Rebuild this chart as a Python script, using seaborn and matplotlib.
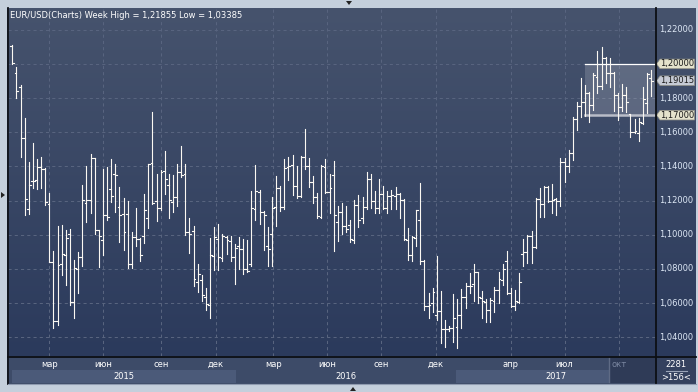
import numpy as np
import pandas as pd
import matplotlib
matplotlib.use("Agg")
import matplotlib.pyplot as plt
import seaborn as sns
from matplotlib.patches import Polygon, Rectangle

# ---------------- data (weekly EUR/USD bars) ----------------
opens = [1.2105, 1.1949, 1.1867, 1.1565, 1.1151, 1.1315, 1.1318, 1.1398, 1.1385, 1.1180,
         1.0843, 1.0498, 1.0828, 1.0882, 1.1003, 1.0609, 1.0800, 1.0869, 1.1184, 1.1202,
         1.1447, 1.1028, 1.0970, 1.1114, 1.1268, 1.1354, 1.1165, 1.1120, 1.1120, 1.0829,
         1.0985, 1.0974, 1.0991, 1.1101, 1.1420, 1.1198, 1.1155, 1.1373, 1.1292, 1.1194,
         1.1219, 1.1370, 1.1354, 1.1019, 1.1025, 1.0726, 1.0734, 1.0638, 1.0590, 1.0878,
         1.0974, 1.0863, 1.0990, 1.0966, 1.0869, 1.0932, 1.0917, 1.0798, 1.0828, 1.1151,
         1.1249, 1.1132, 1.0936, 1.1005, 1.1165, 1.1272, 1.1161, 1.1395, 1.1409, 1.1286,
         1.1229, 1.1457, 1.1405, 1.1311, 1.1223, 1.1104, 1.1397, 1.1253, 1.1350, 1.1073,
         1.1135, 1.1052, 1.1058, 1.0970, 1.1175, 1.1097, 1.1161, 1.1327, 1.1198, 1.1159,
         1.1237, 1.1159, 1.1229, 1.1229, 1.1239, 1.1204, 1.0970, 1.0882, 1.0980, 1.1087,
         1.0847, 1.0586, 1.0600, 1.0532, 1.0555, 1.0450, 1.0450, 1.0453, 1.0463, 1.0528,
         1.0639, 1.0703, 1.0711, 1.0781, 1.0633, 1.0609, 1.0561, 1.0613, 1.0678, 1.0736,
         1.0847, 1.0658, 1.0584, 1.0609, 1.0887, 1.0902, 1.0993, 1.0931, 1.1210, 1.1180,
         1.1282, 1.1200, 1.1210, 1.1198, 1.1428, 1.1403, 1.1477, 1.1676, 1.1755, 1.1775,
         1.1828, 1.1759, 1.1925, 1.1870, 1.2032, 1.1948, 1.1944, 1.1818, 1.1750, 1.1818,
         1.1705, 1.1603, 1.1597, 1.1657, 1.1769, 1.1915]
highs = [1.2110, 1.1982, 1.1877, 1.1682, 1.1426, 1.1538, 1.1444, 1.1456, 1.1393, 1.1243,
         1.0904, 1.1052, 1.1058, 1.1028, 1.1034, 1.0853, 1.0902, 1.1292, 1.1401, 1.1471,
         1.1451, 1.1030, 1.1385, 1.1399, 1.1444, 1.1412, 1.1278, 1.1213, 1.1197, 1.1019,
         1.1159, 1.0980, 1.1241, 1.1416, 1.1716, 1.1358, 1.1377, 1.1488, 1.1358, 1.1348,
         1.1416, 1.1520, 1.1416, 1.1097, 1.1052, 1.0830, 1.0765, 1.0691, 1.0980, 1.1048,
         1.1063, 1.1005, 1.0995, 1.0993, 1.0947, 1.0985, 1.0974, 1.0970, 1.1256, 1.1407,
         1.1260, 1.1140, 1.1044, 1.1219, 1.1344, 1.1286, 1.1444, 1.1456, 1.1467, 1.1403,
         1.1461, 1.1619, 1.1451, 1.1346, 1.1243, 1.1407, 1.1446, 1.1358, 1.1432, 1.1169,
         1.1184, 1.1169, 1.1087, 1.1204, 1.1233, 1.1223, 1.1370, 1.1356, 1.1258, 1.1327,
         1.1286, 1.1258, 1.1260, 1.1282, 1.1243, 1.1210, 1.1038, 1.0993, 1.1145, 1.1301,
         1.0850, 1.0658, 1.0687, 1.0878, 1.0672, 1.0503, 1.0467, 1.0652, 1.0625, 1.0683,
         1.0720, 1.0775, 1.0828, 1.0785, 1.0674, 1.0625, 1.0633, 1.0697, 1.0785, 1.0828,
         1.0906, 1.0687, 1.0678, 1.0775, 1.0978, 1.1000, 1.1020, 1.1214, 1.1272, 1.1286,
         1.1286, 1.1296, 1.1214, 1.1448, 1.1448, 1.1497, 1.1691, 1.1779, 1.1919, 1.1874,
         1.1837, 1.1944, 1.2075, 1.2097, 1.2042, 1.2032, 1.1950, 1.1830, 1.1880, 1.1866,
         1.1708, 1.1676, 1.1682, 1.1866, 1.1948, 1.1967]
lows = [1.2000, 1.1802, 1.1457, 1.1114, 1.1122, 1.1272, 1.1270, 1.1276, 1.1175, 1.0843,
        1.0457, 1.0473, 1.0762, 1.0707, 1.0588, 1.0516, 1.0658, 1.0820, 1.1077, 1.1130,
        1.1003, 1.0814, 1.0882, 1.1087, 1.1190, 1.1132, 1.0960, 1.0911, 1.0804, 1.0804,
        1.0932, 1.0849, 1.0952, 1.1040, 1.1180, 1.1083, 1.1144, 1.1237, 1.1100, 1.1132,
        1.1169, 1.1341, 1.1000, 1.0896, 1.0703, 1.0668, 1.0613, 1.0561, 1.0516, 1.0795,
        1.0795, 1.0849, 1.0886, 1.0849, 1.0711, 1.0800, 1.0769, 1.0785, 1.0820, 1.1087,
        1.1063, 1.0913, 1.0820, 1.0820, 1.1054, 1.1142, 1.1151, 1.1321, 1.1233, 1.1214,
        1.1223, 1.1385, 1.1282, 1.1184, 1.1100, 1.1097, 1.1243, 1.1130, 1.0908, 1.0966,
        1.1003, 1.1015, 1.0956, 1.0950, 1.1044, 1.1067, 1.1151, 1.1155, 1.1126, 1.1126,
        1.1151, 1.1130, 1.1150, 1.1151, 1.1100, 1.0970, 1.0853, 1.0849, 1.0936, 1.0828,
        1.0561, 1.0516, 1.0547, 1.0503, 1.0366, 1.0346, 1.0438, 1.0372, 1.0337, 1.0453,
        1.0574, 1.0658, 1.0613, 1.0600, 1.0516, 1.0488, 1.0492, 1.0549, 1.0600, 1.0707,
        1.0652, 1.0580, 1.0561, 1.0600, 1.0820, 1.0837, 1.0837, 1.0921, 1.1106, 1.1106,
        1.1192, 1.1126, 1.1116, 1.1170, 1.1311, 1.1370, 1.1437, 1.1613, 1.1691, 1.1697,
        1.1662, 1.1730, 1.1828, 1.1856, 1.1886, 1.1866, 1.1725, 1.1672, 1.1725, 1.1721,
        1.1574, 1.1594, 1.1550, 1.1647, 1.1711, 1.1814]
closes = [1.2005, 1.1843, 1.1568, 1.1210, 1.1290, 1.1317, 1.1396, 1.1383, 1.1194, 1.0843,
          1.0498, 1.0824, 1.0886, 1.0980, 1.0609, 1.0804, 1.0869, 1.1202, 1.1202, 1.1451,
          1.1028, 1.0993, 1.1114, 1.1106, 1.1225, 1.1350, 1.1118, 1.1019, 1.0829, 1.0985,
          1.0974, 1.0884, 1.1147, 1.1416, 1.1184, 1.1155, 1.1368, 1.1328, 1.1204, 1.1219,
          1.1366, 1.1350, 1.1015, 1.1003, 1.0742, 1.0771, 1.0648, 1.0593, 1.0882, 1.0985,
          1.0869, 1.0991, 1.0970, 1.0869, 1.0921, 1.0917, 1.0798, 1.0790, 1.1159, 1.1256,
          1.1132, 1.1116, 1.0915, 1.1155, 1.1272, 1.1165, 1.1389, 1.1405, 1.1286, 1.1227,
          1.1457, 1.1405, 1.1311, 1.1223, 1.1112, 1.1401, 1.1253, 1.1276, 1.1116, 1.1135,
          1.1052, 1.1034, 1.0974, 1.1175, 1.1087, 1.1161, 1.1327, 1.1200, 1.1159, 1.1237,
          1.1159, 1.1229, 1.1235, 1.1239, 1.1204, 1.0974, 1.0882, 1.0985, 1.1145, 1.0847,
          1.0586, 1.0590, 1.0664, 1.0555, 1.0450, 1.0450, 1.0455, 1.0516, 1.0532, 1.0639,
          1.0703, 1.0701, 1.0785, 1.0639, 1.0613, 1.0561, 1.0619, 1.0678, 1.0742, 1.0798,
          1.0658, 1.0584, 1.0613, 1.0722, 1.0902, 1.0993, 1.0931, 1.1210, 1.1180, 1.1282,
          1.1200, 1.1204, 1.1198, 1.1428, 1.1403, 1.1477, 1.1676, 1.1755, 1.1775, 1.1828,
          1.1759, 1.1935, 1.1870, 1.2032, 1.1948, 1.1944, 1.1818, 1.1750, 1.1818, 1.1779,
          1.1600, 1.1610, 1.1661, 1.1794, 1.1940, 1.19015]

month_labels = ["мар", "июн", "сен", "дек", "мар", "июн", "сен", "дек", "апр", "июл", "окт"]
month_pos = [9.0, 22.0, 36.1, 49.4, 63.3, 76.4, 89.5, 102.8, 121.0, 134.0, 147.3]
year_labels = ["2015", "2016", "2017"]
year_edges = [0.0, 54.3, 107.7, 156.2]
future_start = 144.8
price_ticks = [1.04, 1.06, 1.08, 1.10, 1.12, 1.14, 1.16, 1.18, 1.20, 1.22]
level_lines = [1.20, 1.17]
box_start = 138.9
title = "EUR/USD(Charts) Week High = 1,21855 Low = 1,03385"
info_lines = ["2281", ">156<"]

# ---------------- layout ----------------
W, H = 698, 392
X0, X1 = 8, 656          # plot area in pixels
Y0, Y1 = 8, 356
XLIM = (-1.04, 156.2)
YLIM = (1.0291, 1.2327)
FS = 6.0
plt.rcParams["font.family"] = ["DejaVu Sans"]

def fr(x0, y0, x1, y1):
    return [x0 / W, 1 - y1 / H, (x1 - x0) / W, (y1 - y0) / H]

def gradient(ax, top, bottom, extent):
    t = np.array(matplotlib.colors.to_rgb(top))
    b = np.array(matplotlib.colors.to_rgb(bottom))
    arr = t + np.linspace(0, 1, 256)[:, None, None] * (b - t)
    ax.imshow(arr, extent=extent, aspect="auto", origin="upper", zorder=0,
              interpolation="bilinear")

fig = plt.figure(figsize=(W / 100, H / 100), dpi=100)
fig.patch.set_facecolor("#c4cfdc")

# background pixel axes
bg = fig.add_axes([0, 0, 1, 1], zorder=0)
bg.set_xlim(0, W); bg.set_ylim(H, 0); bg.axis("off")
bg.add_patch(Rectangle((7, 8), 689, 376, facecolor="#2e3b58", edgecolor="none"))

# ---------------- main price axes ----------------
ax = fig.add_axes(fr(X0, Y0, X1, Y1), zorder=2)
gradient(ax, "#46536d", "#2b3a5c", [XLIM[0], XLIM[1], YLIM[0], YLIM[1]])

for p in price_ticks:
    ax.axhline(p, color="#58647f", lw=0.75, ls=(0, (3, 3)), zorder=1)
for m in month_pos:
    ax.axvline(m, color="#58647f", lw=0.75, ls=(0, (3, 3)), zorder=1)

# level box
ax.add_patch(Rectangle((box_start, level_lines[1]), XLIM[1] - box_start,
                       level_lines[0] - level_lines[1], facecolor="white",
                       alpha=0.16, edgecolor="none", zorder=2))
ax.plot([box_start, XLIM[1]], [level_lines[0]] * 2, color="white", lw=0.9, zorder=4)
ax.plot([box_start, XLIM[1]], [level_lines[1]] * 2, color="#b9bdc8", lw=1.8, zorder=4)

# OHLC bars as line segments drawn by seaborn
rows = []
for i, (o, h, l, c) in enumerate(zip(opens, highs, lows, closes)):
    rows += [(f"hl{i}", i, l), (f"hl{i}", i, h),
             (f"o{i}", i - 0.45, o), (f"o{i}", i, o),
             (f"c{i}", i, c), (f"c{i}", i + 0.45, c)]
df = pd.DataFrame(rows, columns=["seg", "x", "y"])
sns.lineplot(data=df, x="x", y="y", units="seg", estimator=None, sort=False,
             color="#fbf8f2", linewidth=0.8, legend=False, ax=ax, zorder=5)

ax.set_xlim(*XLIM); ax.set_ylim(*YLIM)
ax.set_xlabel(""); ax.set_ylabel("")
ax.set_xticks([]); ax.set_yticks([])
for s in ax.spines.values():
    s.set_visible(False)
ax.text(2 / (X1 - X0), 1 - 7.5 / (Y1 - Y0), title, transform=ax.transAxes,
        ha="left", va="center", color="white", fontsize=FS, zorder=6)

# ---------------- right price scale ----------------
axr = fig.add_axes(fr(X1, Y0, 696, Y1), zorder=2)
gradient(axr, "#46536d", "#2b3a5c", [0, 40, YLIM[0], YLIM[1]])
axr.set_xlim(0, 40); axr.set_ylim(*YLIM); axr.axis("off")
ppx = (YLIM[1] - YLIM[0]) / (Y1 - Y0)
fmt = lambda v: f"{v:.5f}".replace(".", ",")
for p in price_ticks:
    if any(abs(p - q) < 1e-9 for q in level_lines):
        continue
    axr.text(3, p, fmt(p), ha="left", va="center", color="#dde7f5", fontsize=FS)

def tag(y, face):
    h = 4.8 * ppx
    poly = Polygon([(0.6, y), (4, y + h), (38.5, y + h), (38.5, y - h), (4, y - h)],
                   closed=True, facecolor=face, edgecolor="#8e8e84", lw=0.5, zorder=3)
    axr.add_patch(poly)
    axr.text(4.2, y, fmt(y), ha="left", va="center", color="#1b1b1b", fontsize=FS, zorder=4)

for q in level_lines:
    tag(q, "#e4e2cc")
tag(closes[-1], "#c6cbd5")

# ---------------- date axis ----------------
axd = fig.add_axes(fr(X0, Y1, X1, 384), zorder=2)
axd.set_xlim(*XLIM); axd.set_ylim(28, 0); axd.axis("off")
axd.add_patch(Rectangle((XLIM[0], 0), XLIM[1] - XLIM[0], 28, facecolor="#3d4b68", edgecolor="none"))
for k, lab in enumerate(year_labels):
    a, b = year_edges[k], year_edges[k + 1]
    if k % 2 == 0:
        axd.add_patch(Rectangle((a, 13.5), b - a, 13.5, facecolor="#4b5a79", edgecolor="none"))
    axd.text((a + b) / 2, 20.5, lab, ha="center", va="center", color="white", fontsize=FS, zorder=3)
axd.add_patch(Rectangle((future_start, 0), XLIM[1] - future_start, 27, facecolor="#2f3b57",
                        edgecolor="none", zorder=2))
axd.plot([future_start, future_start], [1, 26], color="#5f6b85", lw=1, zorder=2)
for m, lab in zip(month_pos, month_labels):
    col = "#7a86a0" if m > future_start else "white"
    axd.text(m, 8.5, lab, ha="center", va="center", color=col, fontsize=FS, zorder=3)

# info box
axi = fig.add_axes(fr(X1, Y1, 696, 384), zorder=2)
axi.set_xlim(0, 40); axi.set_ylim(28, 0); axi.axis("off")
axi.add_patch(Rectangle((0, 0), 40, 28, facecolor="#34415e", edgecolor="none"))
axi.text(20, 8.5, info_lines[0], ha="center", va="center", color="white", fontsize=FS)
axi.plot([10, 31], [15, 15], color="#9aa4b8", lw=0.8)
axi.text(20, 21.5, info_lines[1], ha="center", va="center", color="white", fontsize=FS)

# ---------------- overlay lines and arrows ----------------
ov = fig.add_axes([0, 0, 1, 1], zorder=10)
ov.set_xlim(0, W); ov.set_ylim(H, 0); ov.axis("off")
ov.patch.set_alpha(0)
ov.plot([X0 - 0.5, X0 - 0.5], [8, 384], color="#10131a", lw=1.3)
ov.plot([X0, 696], [Y1 + 0.5, Y1 + 0.5], color="#0c0f14", lw=1.3)
ov.plot([X1, X1], [8, 384], color="#0c0f14", lw=1.3)
ov.plot([X0, 696], [384, 384], color="#8f9bb0", lw=0.8)
ov.add_patch(Polygon([(346, 1), (352, 1), (349, 5)], closed=True, facecolor="#222"))
ov.add_patch(Polygon([(350, 391), (356, 391), (353, 387)], closed=True, facecolor="#222"))
ov.add_patch(Polygon([(1, 192), (1, 198), (5, 195)], closed=True, facecolor="#222"))

fig.savefig("out.png", dpi=100, facecolor=fig.get_facecolor())
